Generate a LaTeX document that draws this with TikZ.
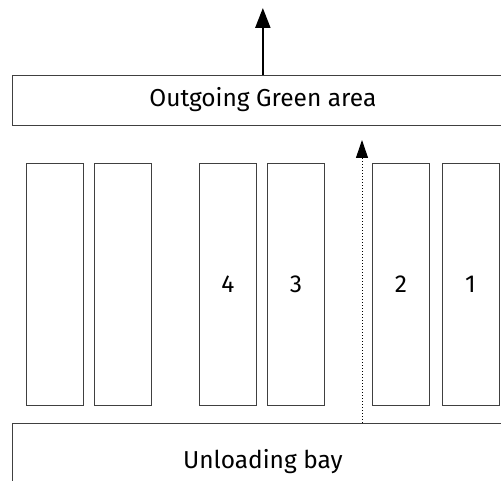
\documentclass[tikz,border=0pt]{standalone}
\usepackage{fontspec}
\setmainfont{Fira Sans}
\usetikzlibrary{arrows.meta}

\begin{document}
\begin{tikzpicture}[x=1pt,y=-1pt]
\tikzstyle{area}=[draw=black!75,line width=0.8pt,inner sep=0pt,font=\fontsize{24.5}{28}\selectfont]
\tikzstyle{lane}=[area,minimum width=57pt,minimum height=242pt]
\useasboundingbox (0,0) rectangle (501,481);
\clip (0,0) rectangle (501,481);
    \node (Green) [area,minimum width=500.3pt,minimum height=50pt] at (262.85,100) {Outgoing Green area};
    \node (Bay) [area,minimum width=500.3pt,minimum height=77pt] at (262.85,461.5) {Unloading bay};
    % picking lanes
    \foreach \x/\name/\lbl in {54.5/L6/,122.5/L5/,228/L4/4,296/L3/3,401/L2/2,470.5/L1/1}
      \node (\name) [lane] at (\x,284) {\lbl};
    \coordinate (Out) at (262.85,8);
    \coordinate (Pick) at (362,140);
    \draw [line width=2.2pt,-{Triangle[width=15pt,length=20pt]}] (Green.north) -- (Out);
    \draw [line width=1pt,dotted,-{Triangle[width=12pt,length=18pt]}] (Pick |- Bay.north) -- (Pick);
\end{tikzpicture}
\end{document}
